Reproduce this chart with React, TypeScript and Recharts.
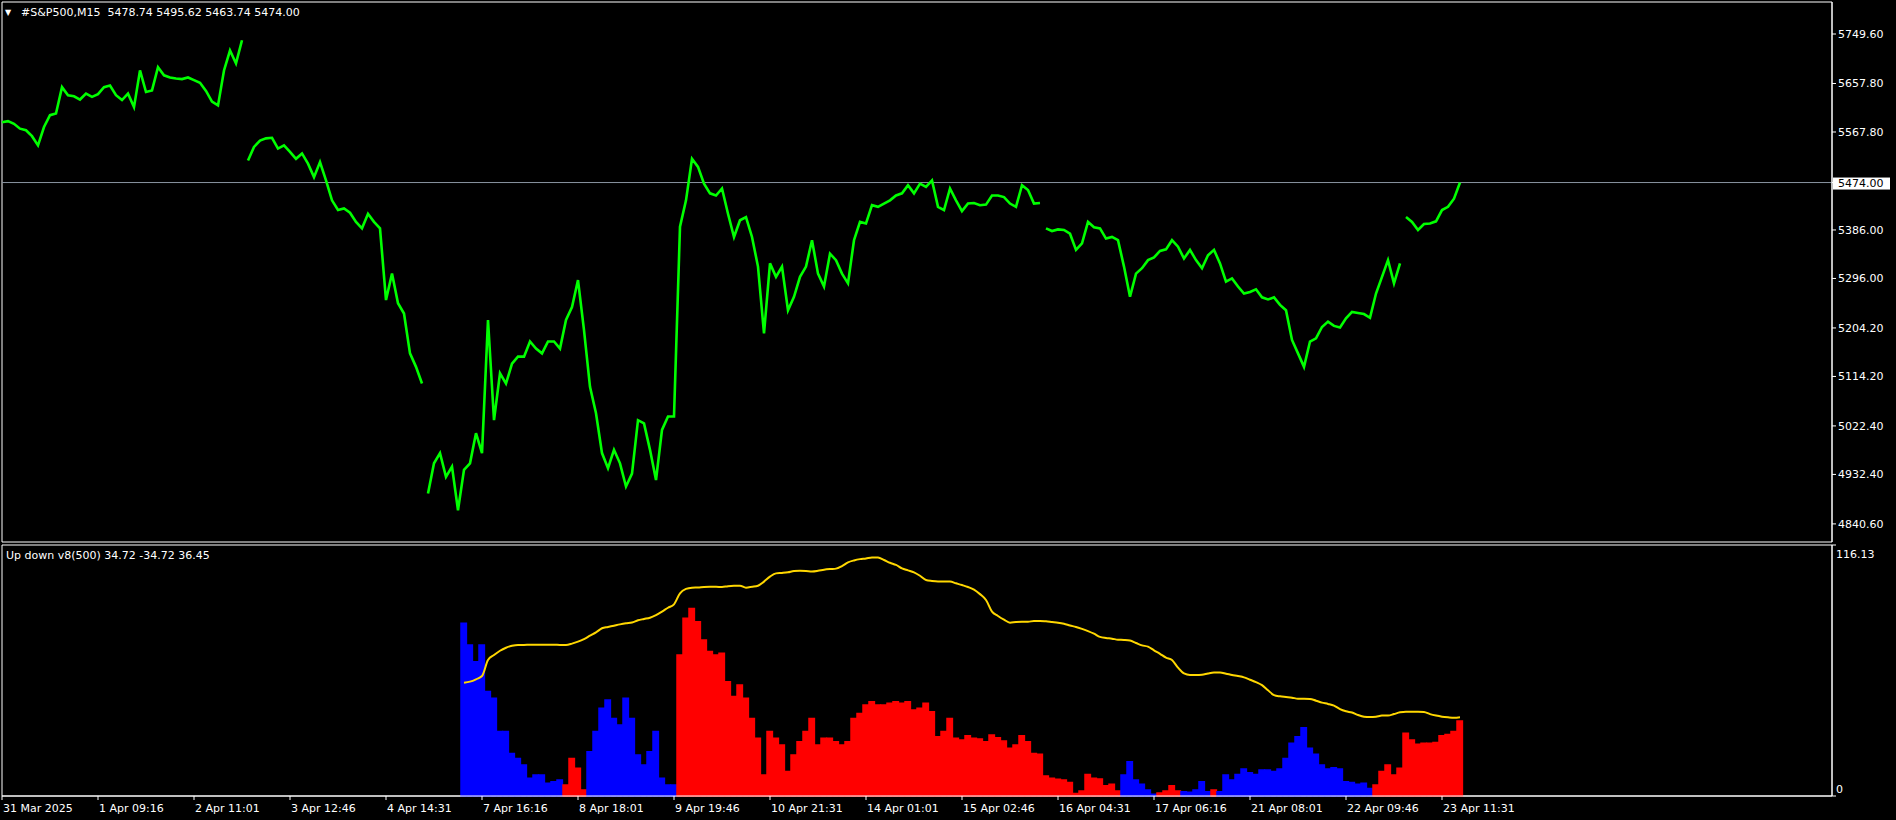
import { ComposedChart, Line, Bar, Cell, XAxis, YAxis, ReferenceLine, ReferenceArea } from 'recharts'

const FONT = '"DejaVu Sans", Tahoma, sans-serif'

// x positions are M15 bars sampled every few bars
const SLOTS = 305

const timeLabels = [
  '31 Mar 2025', '1 Apr 09:16', '2 Apr 11:01', '3 Apr 12:46', '4 Apr 14:31', '7 Apr 16:16',
  '8 Apr 18:01', '9 Apr 19:46', '10 Apr 21:31', '14 Apr 01:01', '15 Apr 02:46', '16 Apr 04:31',
  '17 Apr 06:16', '21 Apr 08:01', '22 Apr 09:46', '23 Apr 11:31',
]
const labelStep = 16

const price = [
  5586, 5588, 5583, 5574, 5571, 5560, 5543, 5577, 5599, 5602,
  5651, 5636, 5634, 5628, 5639, 5633, 5638, 5651, 5654, 5636,
  5627, 5639, 5614, 5682, 5642, 5645, 5688, 5673, 5669, 5667,
  5666, 5669, 5664, 5659, 5644, 5624, 5617, 5682, 5719, 5695,
  5738, 5515, 5540, 5552, 5556, 5557, 5537, 5543, 5531, 5518,
  5528, 5509, 5484, 5512, 5478, 5441, 5423, 5426, 5418, 5401,
  5389, 5416, 5401, 5389, 5256, 5305, 5250, 5231, 5157, 5132,
  5101, 4897, 4953, 4972, 4928, 4947, 4866, 4941, 4953, 5009,
  4972, 5219, 5033, 5120, 5101, 5138, 5151, 5151, 5179, 5166,
  5157, 5179, 5179, 5166, 5219, 5243, 5293, 5200, 5095, 5046,
  4972, 4944, 4978, 4953, 4910, 4934, 5033, 5027, 4978, 4922,
  5015, 5040, 5040, 5392, 5441, 5518, 5503, 5472, 5454, 5450,
  5463, 5416, 5373, 5404, 5410, 5373, 5318, 5194, 5324, 5299,
  5318, 5237, 5262, 5299, 5318, 5367, 5305, 5281, 5342, 5330,
  5305, 5287, 5367, 5401, 5398, 5432, 5429, 5435, 5441, 5450,
  5454, 5469, 5454, 5472, 5466, 5478, 5429, 5423, 5463, 5441,
  5421, 5435, 5436, 5432, 5433, 5450, 5450, 5447, 5435, 5429,
  5469, 5460, 5435, 5436, 5389, 5384, 5387, 5386, 5379, 5349,
  5361, 5401, 5391, 5389, 5370, 5373, 5367, 5318, 5262, 5305,
  5315, 5330, 5335, 5347, 5350, 5367, 5355, 5333, 5349, 5330,
  5315, 5339, 5349, 5324, 5290, 5296, 5281, 5268, 5271, 5276,
  5261, 5257, 5261, 5247, 5237, 5182, 5157, 5132, 5179, 5185,
  5206, 5216, 5208, 5205, 5222, 5234, 5232, 5230, 5223, 5268,
  5299, 5330, 5287, 5324, 5410, 5401, 5386, 5397, 5398, 5402,
  5423, 5429, 5444, 5474,
]
// first sample of each new session (price gaps, no connecting line)
const sessionStarts = [41, 71, 174, 234]

const priceTicks = [5749.6, 5657.8, 5567.8, 5474, 5386, 5296, 5204.2, 5114.2, 5022.4, 4932.4, 4840.6]
const lastPrice = 5474

// "Up down v8(500)" indicator, starts at sample 77
const indStart = 77
const updown = [
  79.9, 69.9, 62.1, 69.9, 48.3, 45.2, 29.8, 29.8, 19.7, 17.4,
  14.3, 8.2, 9.7, 9.7, 5.9, 6.6, 7.4, 5.1, 17.4, 12.8,
  2.8, 20.5, 29.8, 40.6, 44.4, 35.9, 32.8, 45.2, 35.9, 19.0,
  14.3, 20.5, 29.8, 8.2, 5.1, 5.1, 65.2, 82.2, 86.8, 80.6,
  72.2, 66.8, 65.2, 66.0, 52.9, 46.0, 51.3, 45.2, 35.9, 26.7,
  9.7, 29.8, 26.7, 23.6, 11.3, 19.0, 25.1, 29.8, 35.9, 23.6,
  26.7, 26.7, 25.1, 23.6, 25.1, 35.9, 38.2, 42.1, 43.6, 42.1,
  42.1, 42.9, 43.6, 42.9, 43.6, 39.8, 40.6, 42.9, 39.0, 27.4,
  29.8, 35.9, 26.7, 25.9, 27.9, 26.7, 26.4, 25.1, 28.2, 27.0,
  25.4, 22.1, 23.6, 27.9, 25.1, 19.7, 19.3, 9.3, 8.2, 7.7,
  7.4, 6.3, 1.2, 2.3, 10.0, 8.2, 7.9, 4.8, 5.4, 2.3,
  9.7, 15.9, 7.4, 5.4, 2.8, 0.8, 1.4, 2.3, 4.8, 2.3,
  2.0, 1.7, 2.8, 6.6, 2.0, 2.8, 2.0, 9.7, 7.4, 10.0,
  12.5, 10.8, 10.0, 12.0, 12.0, 11.3, 12.5, 17.4, 24.4, 27.4,
  31.6, 22.1, 19.3, 14.3, 12.5, 13.1, 12.5, 6.6, 6.3, 5.4,
  5.9, 3.5, 5.1, 11.3, 14.3, 9.7, 12.8, 29.0, 25.9, 23.9,
  24.4, 24.4, 24.8, 27.9, 28.5, 29.8, 34.72,
]
const updownRuns: [string, number][] = [
  ['u', 17], ['d', 4], ['u', 15], ['d', 74], ['u', 6], ['d', 4], ['u', 5], ['d', 1], ['u', 26], ['d', 15],
]
const signal = [
  52.4, 52.9, 54.0, 55.5, 62.9, 65.2, 67.2, 68.6, 69.5, 69.9,
  69.9, 70.0, 70.0, 70.0, 70.0, 70.0, 69.9, 69.9, 70.5, 71.4,
  72.6, 74.2, 75.7, 77.6, 78.2, 78.8, 79.4, 79.9, 80.3, 81.3,
  81.9, 82.5, 83.7, 85.3, 87.1, 88.7, 93.8, 95.8, 96.4, 96.5,
  96.7, 96.8, 96.8, 96.7, 97.1, 97.3, 97.3, 96.4, 96.8, 97.3,
  99.2, 101.5, 103.0, 103.2, 103.5, 104.1, 104.2, 104.1, 103.9, 104.2,
  104.7, 105.0, 105.2, 106.4, 108.1, 109.0, 109.6, 109.9, 110.4, 110.3,
  109.2, 107.9, 106.9, 105.3, 104.4, 103.5, 101.9, 99.9, 99.5, 99.3,
  99.3, 99.2, 98.4, 97.6, 96.7, 95.5, 93.4, 90.7, 85.3, 83.3,
  81.6, 80.2, 80.5, 80.6, 80.6, 81.0, 81.0, 80.8, 80.5, 80.2,
  79.7, 78.9, 78.2, 77.3, 76.3, 75.1, 73.6, 73.1, 72.8, 72.3,
  72.2, 71.9, 70.8, 69.7, 69.1, 67.4, 65.8, 64.0, 62.9, 59.4,
  56.7, 56.0, 56.0, 56.1, 56.7, 57.1, 57.1, 56.6, 56.0, 55.5,
  54.9, 53.8, 52.7, 51.3, 48.9, 46.7, 46.1, 45.8, 45.5, 45.0,
  45.0, 44.9, 44.1, 43.2, 42.6, 41.8, 40.2, 39.2, 38.6, 37.5,
  36.7, 36.5, 36.7, 37.2, 37.2, 37.9, 38.7, 39.0, 39.0, 39.0,
  38.9, 37.9, 37.2, 36.7, 36.4, 36.2, 36.45,
]
const indMax = 116.13

const sides: string[] = updownRuns.flatMap(([s, n]) => Array(n).fill(s))

const rows = price.map((p, i) => {
  const row: Record<string, any> = { i }
  row['s' + sessionStarts.filter((s) => i >= s).length] = p
  const k = i - indStart
  if (k >= 0) {
    row.ud = updown[k]
    row.sig = signal[k]
    row.side = sides[k]
  }
  return row
})
const segKeys = ['s0', 's1', 's2', 's3', 's4']

const PriceTick = (props: any) => {
  const { x, y, payload } = props
  const v = payload.value as number
  if (v === lastPrice) {
    return (
      <g>
        <rect x={x - 5} y={y - 5} width={57} height={12} fill="#ffffff" />
        <text x={x} y={y} dy={4} fill="#000000" fontSize={11} fontFamily={FONT}>{v.toFixed(2)}</text>
      </g>
    )
  }
  return <text x={x} y={y} dy={4} fill="#ffffff" fontSize={11} fontFamily={FONT}>{v.toFixed(2)}</text>
}

const IndTick = (props: any) => {
  const { x, y, payload } = props
  const v = payload.value as number
  return (
    <text x={x - 2} y={y} dy={v > 0 ? 13 : -3} fill="#ffffff" fontSize={11} fontFamily={FONT}>
      {v === 0 ? '0' : v.toFixed(2)}
    </text>
  )
}

const TimeTick = (props: any) => {
  const { x, y, payload } = props
  return (
    <text x={x + 1} y={y + 12} fill="#ffffff" fontSize={11} fontFamily={FONT}>
      {timeLabels[Math.round(payload.value / labelStep)]}
    </text>
  )
}

export default function App() {
  const timeTicks = timeLabels.map((_, k) => k * labelStep)
  const textStyle = { position: 'absolute' as const, color: '#ffffff', fontFamily: FONT, fontSize: 11, lineHeight: '13px', whiteSpace: 'pre' as const }

  return (
    <div style={{ position: 'absolute', left: 0, top: 0, width: 1896, height: 820, background: '#000000', overflow: 'hidden' }}>
      <div style={{ position: 'absolute', left: 0, top: 0 }}>
        <ComposedChart width={1896} height={543} data={rows} margin={{ top: 2, right: 0, bottom: 1, left: 2 }}>
          <XAxis dataKey="i" type="number" domain={[0, SLOTS]} hide />
          <YAxis
            orientation="right"
            width={64}
            domain={[4807, 5809]}
            ticks={priceTicks}
            interval={0}
            tick={<PriceTick />}
            tickSize={4}
            tickMargin={2}
            tickLine={{ stroke: '#ffffff' }}
            axisLine={{ stroke: '#ffffff' }}
          />
          <ReferenceArea x1={0} x2={SLOTS} y1={4807} y2={5809} fill="none" fillOpacity={0} stroke="#ffffff" strokeOpacity={1} />
          <ReferenceLine y={lastPrice} stroke="#8a94a0" />
          {segKeys.map((k) => (
            <Line
              key={k}
              dataKey={k}
              type="linear"
              stroke="#00ff00"
              strokeWidth={2.6}
              strokeLinejoin="miter"
              dot={false}
              activeDot={false}
              isAnimationActive={false}
            />
          ))}
        </ComposedChart>
      </div>

      <div style={{ position: 'absolute', left: 0, top: 543 }}>
        <ComposedChart width={1896} height={277} data={rows} margin={{ top: 2, right: 0, bottom: 0, left: 2 }}>
          <XAxis
            dataKey="i"
            type="number"
            domain={[0, SLOTS]}
            ticks={timeTicks}
            interval={0}
            height={24}
            tick={<TimeTick />}
            tickSize={4}
            tickMargin={0}
            tickLine={{ stroke: '#ffffff' }}
            axisLine={{ stroke: '#ffffff' }}
          />
          <YAxis
            orientation="right"
            width={64}
            domain={[0, indMax]}
            ticks={[0, indMax]}
            interval={0}
            tick={<IndTick />}
            tickSize={4}
            tickMargin={2}
            tickLine={{ stroke: '#ffffff' }}
            axisLine={{ stroke: '#ffffff' }}
          />
          <ReferenceArea x1={0} x2={SLOTS} y1={0} y2={indMax} fill="none" fillOpacity={0} stroke="#ffffff" strokeOpacity={1} />
          <Bar dataKey="ud" barSize={6} isAnimationActive={false}>
            {rows.map((r) => {
              const c = r.side === 'u' ? '#0000ff' : '#ff0000'
              return <Cell key={r.i} fill={c} stroke={c} strokeWidth={1.5} />
            })}
          </Bar>
          <Line dataKey="sig" type="monotone" stroke="#ffd700" strokeWidth={2} dot={false} activeDot={false} isAnimationActive={false} />
        </ComposedChart>
      </div>

      <span style={{ ...textStyle, left: 5, top: 6, fontSize: 8 }}>▼</span>
      <span style={{ ...textStyle, left: 21, top: 6 }}>#S&amp;P500,M15  5478.74 5495.62 5463.74 5474.00</span>
      <span style={{ ...textStyle, left: 6, top: 549 }}>Up down v8(500) 34.72 -34.72 36.45</span>
    </div>
  )
}
